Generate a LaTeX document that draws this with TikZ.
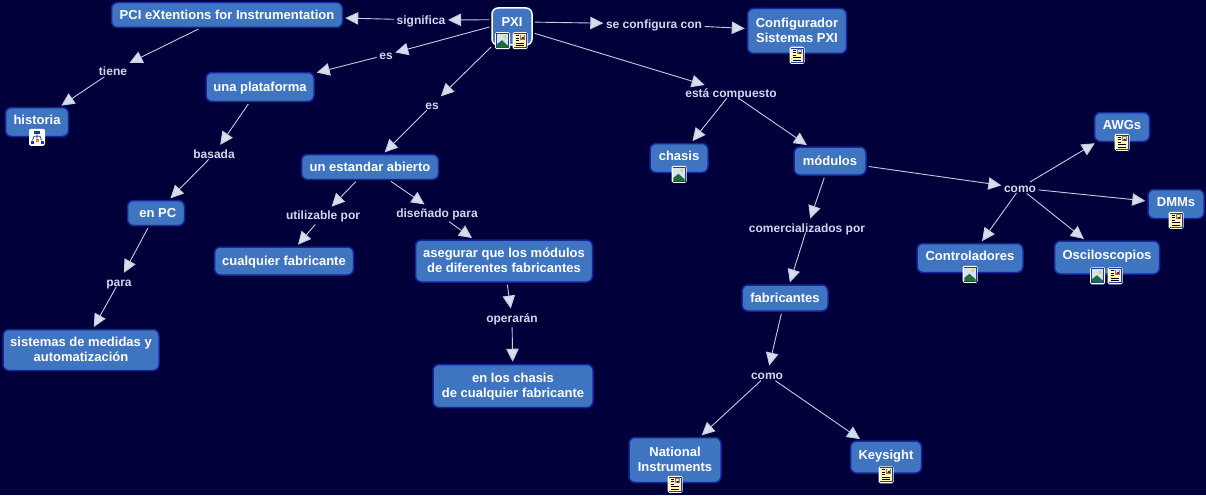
\documentclass[tikz,border=0pt]{standalone}
\usepackage{fontspec}
\setmainfont{Liberation Sans}
\usepackage{xcolor}
\usepackage{tikz}
\usetikzlibrary{arrows.meta,positioning}
\definecolor{mapbg}{HTML}{02003A}
\definecolor{boxfill}{HTML}{3F74C0}
\definecolor{boxedge}{HTML}{14249A}
\definecolor{linkline}{HTML}{C4CCE0}
\definecolor{linktip}{HTML}{D2E0EA}
\definecolor{linktext}{HTML}{D0D8EE}
\definecolor{iconblue}{HTML}{1C3C9C}
\definecolor{iconsky}{HTML}{D4E4F6}
\definecolor{iconhill}{HTML}{1E6E3C}
\definecolor{iconsun}{HTML}{F2D23C}
\definecolor{iconpaper}{HTML}{FFF4B4}
\tikzset{
  pics/frameicon/.style={code={
    \fill[white,rounded corners=1.5] (-7.5,-8.5) rectangle (7.5,8.5);
    \fill[iconblue] (-6.5,-7.5) rectangle (6.5,7.5);
  }},
  pics/imageicon/.style={code={
    \pic {frameicon};
    \fill[iconsky] (-5.6,-6.6) rectangle (5.6,6.6);
    \fill[iconsun] (2.6,3.6) circle (1.8);
    \fill[iconhill] (-5.6,-6.6) -- (-5.6,-3.5) -- (-0.5,0.5) -- (5.6,-5) -- (5.6,-6.6) -- cycle;
  }},
  pics/docicon/.style={code={
    \pic {frameicon};
    \fill[iconpaper] (-5.6,-6.6) rectangle (5.6,6.6);
    \fill[gray] (0,0.8) rectangle (5.2,6.2);
    \fill[iconsky] (1,3.2) rectangle (4.4,5.4);
    \fill[red!70!black] (2,1.6) rectangle (4,3.4);
    \foreach \ly/\lx in {5/-1,2.5/-1,0/-1,-2.5/4.4,-5/4.4} {
      \draw[black,line width=0.8pt] (-4.4,\ly) -- (\lx,\ly);
    }
  }},
  pics/treeicon/.style={code={
    \fill[white,rounded corners=2] (-8,-8.5) rectangle (8,8.5);
    \draw[iconblue,line width=0.8pt] (0,3) -- (0,-2) (-4.5,-3) -- (-3,1) -- (3,1) -- (4.5,-3);
    \fill[iconblue] (-3,3.5) rectangle (3,6.5);
    \fill[iconblue] (-6.5,-6.5) rectangle (-3.5,-3.5);
    \fill[orange] (-1.5,-5) rectangle (1.5,-2);
    \fill[iconblue] (3.5,-6.5) rectangle (6.5,-3.5);
  }}
}
\begin{document}
\begin{tikzpicture}[
  x=1pt, y=1pt, on grid,
  concept/.style 2 args={rectangle, draw=boxedge, fill=boxfill, line width=1.5pt,
                rounded corners=6pt, minimum width=#1pt, minimum height=#2pt,
                inner sep=0pt, align=center, text=white,
                text height=9.5pt, text depth=1pt,
                font=\bfseries\fontsize{13}{15}\selectfont},
  iconned/.style={text depth=5pt},
  twolines/.style={text height=24.5pt},
  phrase/.style={inner xsep=0.5pt, inner ysep=2.5pt, text=linktext, text height=9pt, text depth=0.5pt,
                font=\bfseries\fontsize{12}{14}\selectfont},
  link/.style={-{Triangle[length=13pt,width=12.5pt,fill=linktip]}, draw=linkline,
                line width=0.9pt, shorten <=2pt, shorten >=2pt},
  plink/.style={link, shorten <=-3pt}
]
\fill[mapbg] (0,-495) rectangle (1206,0);
\useasboundingbox (0,-495) rectangle (1206,0);

\node[concept={40}{37}, draw=white, text depth=10pt] (pxi) at (512,-26.5) {PXI};

\node[phrase, above left=6.5pt and 91pt of pxi] (significa) {significa};
\node[concept={231}{25}, above left=5pt and 194pt of significa] (pci) {PCI eXtentions for Instrumentation};
\node[phrase, below left=56pt and 114pt of pci] (tiene) {tiene};
\node[concept={63}{29}, iconned, below left=51pt and 76pt of tiene] (historia) {historia};

\node[phrase, below left=28.5pt and 126pt of pxi] (esplat) {es};
\node[concept={108}{29}, below left=32pt and 126pt of esplat] (plataforma) {una plataforma};
\node[phrase, below left=67pt and 46pt of plataforma] (basada) {basada};
\node[concept={57}{25}, below left=59pt and 58pt of basada] (enpc) {\ en PC};
\node[phrase, below left=69pt and 37pt of enpc] (para) {para};
\node[concept={156}{41}, twolines, below left=68pt and 38pt of para] (sistemas) {sistemas de medidas y\\automatización};

\node[phrase, below left=78.5pt and 80pt of pxi] (esest) {es};
\node[concept={137}{25}, below left=62pt and 62pt of esest] (estandar) {un estandar abierto};
\node[phrase, below left=48.5pt and 47pt of estandar] (utilizable) {utilizable por};
\node[concept={139}{28}, below left=45.5pt and 39pt of utilizable] (cualquier) {cualquier fabricante};
\node[phrase, below right=46pt and 67pt of estandar] (disenado) {diseñado para};
\node[concept={177}{42}, twolines, below right=48pt and 67pt of disenado] (asegurar) {asegurar que los módulos\\de diferentes fabricantes};
\node[phrase, below right=57pt and 8pt of asegurar] (operaran) {operarán};
\node[concept={160}{43}, twolines, below right=68pt and 1pt of operaran] (enchasis) {en los chasis\\de cualquier fabricante};

\node[phrase, above right=2.5pt and 142pt of pxi] (seconfig) {se configura con};
\node[concept={99}{45}, twolines, below right=7pt and 143pt of seconfig] (configurador) {Configurador\\Sistemas PXI};

\node[phrase, below right=66.5pt and 219pt of pxi] (compuesto) {está compuesto};
\node[concept={58}{29}, iconned, below left=65pt and 52pt of compuesto] (chasis) {chasis};
\node[concept={72}{28}, below right=68pt and 99pt of compuesto] (modulos) {módulos};
\node[phrase, below left=67pt and 23pt of modulos] (comerc) {comercializados por};
\node[concept={86}{26}, below left=70pt and 22pt of comerc] (fabricantes) {fabricantes};
\node[phrase, below left=77pt and 18pt of fabricantes] (comofab) {como};
\node[concept={92}{45}, twolines, below left=85pt and 92pt of comofab] (national) {National\\Instruments};
\node[concept={71}{32}, iconned, below right=82pt and 119pt of comofab] (keysight) {Keysight};

\node[phrase, below right=27pt and 190pt of modulos] (comomod) {como};
\node[concept={55}{29}, iconned, above right=61pt and 102pt of comomod] (awgs) {AWGs};
\node[concept={56}{29}, iconned, below right=16pt and 156pt of comomod] (dmms) {DMMs};
\node[concept={105}{33}, iconned, below right=69.5pt and 87pt of comomod] (oscilos) {Osciloscopios};
\node[concept={106}{29}, iconned, below left=70pt and 50pt of comomod] (control) {Controladores};

\draw[link] (pxi.162) -- (significa);
\draw[link] (significa) -- (pci);
\draw[link] (pci) -- (tiene);
\draw[plink] (tiene) -- (historia);
\draw[link] (pxi.west) -- (esplat);
\draw[link] (esplat) -- (plataforma);
\draw[link] (plataforma) -- (basada);
\draw[plink] (basada) -- (enpc);
\draw[link] (enpc) -- (para);
\draw[plink] (para) -- (sistemas);
\draw[link] (pxi) -- (esest);
\draw[plink] (esest) -- (estandar);
\draw[link] (estandar) -- (utilizable);
\draw[link] (utilizable) -- (cualquier);
\draw[link] (estandar) -- (disenado);
\draw[link] (disenado) -- (asegurar);
\draw[link] (asegurar) -- (operaran);
\draw[link] (operaran) -- (enchasis);
\draw[link] (pxi.12) -- (seconfig);
\draw[link] (seconfig) -- (configurador);
\draw[link] (pxi) -- (compuesto);
\draw[plink] (compuesto) -- (chasis);
\draw[plink] (compuesto) -- (modulos);
\draw[link] (modulos) -- (comerc);
\draw[plink] (comerc) -- (fabricantes);
\draw[link] (fabricantes) -- (comofab);
\draw[plink] (comofab) -- (national);
\draw[plink] (comofab) -- (keysight);
\draw[link] (modulos) -- (comomod);
\draw[plink] (comomod) -- (awgs);
\draw[link] (comomod) -- (dmms);
\draw[plink] (comomod) -- (oscilos);
\draw[plink] (comomod) -- (control);

\pic at ([xshift=-9.5pt,yshift=5pt]pxi.south) {imageicon};
\pic at ([xshift=8pt,yshift=5pt]pxi.south) {docicon};
\pic at (historia.south) {treeicon};
\pic at ([yshift=-1pt]configurador.south) {docicon};
\pic at ([yshift=-1pt]chasis.south) {imageicon};
\pic at ([yshift=-1pt]control.south) {imageicon};
\pic at (awgs.south) {docicon};
\pic at ([yshift=-1pt]dmms.south) {docicon};
\pic at ([xshift=-9.5pt,yshift=-1pt]oscilos.south) {imageicon};
\pic at ([xshift=8pt,yshift=-1pt]oscilos.south) {docicon};
\pic at ([yshift=-1pt]national.south) {docicon};
\pic at ([yshift=-1pt]keysight.south) {docicon};
\end{tikzpicture}
\end{document}
